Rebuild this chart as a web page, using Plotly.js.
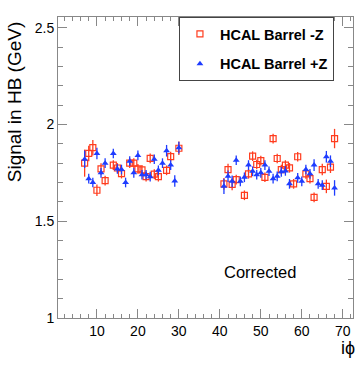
<!DOCTYPE html>
<html>
<head>
<meta charset="utf-8">
<script src="https://cdn.plot.ly/plotly-3.0.1.min.js"></script>
<style>html,body{margin:0;padding:0;background:#fff;}</style>
</head>
<body>
<div id="chart" style="width:361px;height:365px;"></div>
<script>
// iphi values
const iphi = [7,8,9,10,11,12,13,14,15,16,17,18,19,20,21,22,23,24,25,26,27,28,29,30,
              41,42,43,44,45,46,47,48,49,50,51,52,53,54,55,56,57,58,59,60,61,62,63,64,65,66,67,68];
// HCAL Barrel -Z (red open squares)
const minusZ = [1.80,1.85,1.88,1.66,1.77,1.71,null,1.79,1.775,1.746,null,1.80,1.80,1.77,1.765,1.73,1.825,1.743,1.73,null,1.763,1.834,null,1.877,
                1.693,1.767,1.69,1.715,null,1.634,1.745,1.836,1.793,1.813,1.727,null,1.927,1.824,1.767,1.79,1.776,1.693,1.833,null,1.745,1.72,1.623,null,1.767,1.68,1.779,1.927];
const minusZErr = [0.07,0.04,0.04,0.03,0.03,0.025,0,0.025,0.025,0.025,0,0.025,0.025,0.025,0.025,0.025,0.025,0.025,0.025,0,0.025,0.025,0,0.035,
                   0.03,0.03,0.03,0.025,0,0.025,0.025,0.025,0.025,0.025,0.025,0,0.025,0.025,0.025,0.025,0.025,0.025,0.025,0,0.025,0.025,0.025,0,0.03,0.035,0.03,0.05];
// HCAL Barrel +Z (blue triangles)
const plusZ = [1.82,1.72,1.70,1.85,1.75,1.80,null,1.85,1.77,1.767,1.70,1.81,1.75,1.84,1.74,1.74,1.73,1.82,1.763,1.80,1.864,1.79,1.708,1.88,
               1.68,1.732,1.706,1.815,1.706,1.727,1.79,1.758,1.74,1.75,1.79,1.758,1.72,1.732,1.755,1.76,1.693,null,1.724,1.706,1.767,1.745,1.79,1.693,1.686,1.833,1.81,1.672];
const plusZErr = [0.045,0.025,0.025,0.03,0.025,0.025,0,0.025,0.025,0.025,0.025,0.025,0.025,0.025,0.025,0.025,0.025,0.025,0.025,0.025,0.03,0.025,0.03,0.03,
                  0.04,0.03,0.03,0.025,0.025,0.025,0.025,0.025,0.025,0.025,0.025,0.025,0.025,0.025,0.025,0.025,0.025,0,0.025,0.025,0.025,0.025,0.03,0.025,0.025,0.03,0.03,0.04];
const yTicks = [1,1.5,2,2.5];
const yTickText = ['1','1.5','2','2.5'];
const xTicks = [10,20,30,40,50,60,70];

const red = 'rgb(255,60,30)';
const blue = 'rgb(30,60,255)';
const fnt = 'Liberation Sans, Arial, sans-serif';

const traces = [
  {x: iphi, y: minusZ, type: 'scatter', mode: 'markers', name: 'HCAL Barrel -Z', legendgroup: 'a',
   marker: {symbol: 'square-open', size: 6, color: red, line: {width: 1.2, color: red}},
   error_y: {type: 'data', array: minusZErr, visible: true, color: red, thickness: 1.3, width: 0}},
  {x: iphi, y: plusZ, type: 'scatter', mode: 'markers', name: 'HCAL Barrel +Z', legendgroup: 'b',
   marker: {symbol: 'triangle-up', size: 6, color: blue},
   error_y: {type: 'data', array: plusZErr, visible: true, color: blue, thickness: 1.3, width: 0}}
];

const axCommon = {
  showgrid: false, zeroline: false, showline: true, linecolor: '#888', linewidth: 1,
  mirror: 'allticks', ticks: 'inside', tickcolor: '#888', tickfont: {family: fnt, size: 14, color: '#000'}
};

const layout = {
  width: 361, height: 365,
  margin: {l: 58, r: 8, t: 17, b: 47},
  paper_bgcolor: '#fff', plot_bgcolor: '#fff',
  showlegend: true,
  legend: {x: 0.410, y: 1, xanchor: 'left', yanchor: 'top', bgcolor: '#fff', bordercolor: '#444', borderwidth: 1,
           font: {family: fnt, size: 14.5, color: '#000', weight: 'bold'}, traceorder: 'grouped', tracegroupgap: 8},
  xaxis: Object.assign({}, axCommon, {range: [0.5, 72.5], tickvals: xTicks, ticklen: 9,
     minor: {dtick: 2, tick0: 0, ticks: 'inside', ticklen: 4, tickcolor: '#888'}}),
  yaxis: Object.assign({}, axCommon, {range: [1, 2.555], tickvals: yTicks, ticktext: yTickText, ticklen: 9,
     minor: {dtick: 0.1, tick0: 1, ticks: 'inside', ticklen: 5, tickcolor: '#888'}}),
  annotations: [
    {text: 'Corrected', xref: 'paper', yref: 'paper', x: 0.685, y: 0.153, xanchor: 'center', yanchor: 'middle', showarrow: false,
     font: {family: fnt, size: 16.5, color: '#000'}},
    {text: 'Signal in HB (GeV)', xref: 'paper', yref: 'paper', x: -0.149, y: 0.717, xanchor: 'center', yanchor: 'middle',
     textangle: -90, showarrow: false, font: {family: fnt, size: 19, color: '#000'}},
    {text: 'iϕ', xref: 'paper', yref: 'paper', x: 1.015, y: -0.1, xanchor: 'right', yanchor: 'middle', showarrow: false,
     font: {family: fnt, size: 18, color: '#000'}}
  ]
};

Plotly.newPlot('chart', traces, layout, {staticPlot: true, displayModeBar: false});
</script>
</body>
</html>
